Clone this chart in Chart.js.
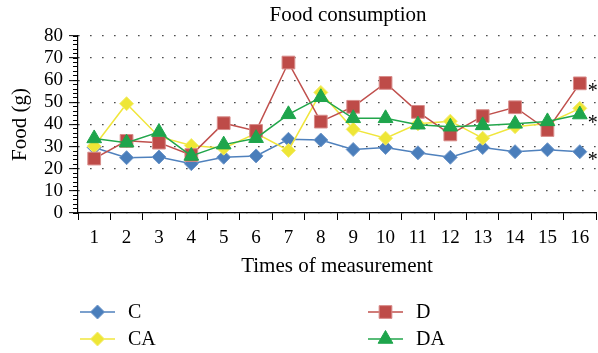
<!DOCTYPE html>
<html>
<head>
<meta charset="utf-8">
<title>Food consumption</title>
<script src="https://cdn.jsdelivr.net/npm/chart.js@4/dist/chart.umd.min.js"></script>
<style>
  html, body { margin: 0; padding: 0; background: #fff; }
  canvas { display: block; }
</style>
</head>
<body>
<canvas id="foodChart" width="598" height="353"></canvas>
<script>
// values
const measurements = ["1", "2", "3", "4", "5", "6", "7", "8", "9", "10", "11", "12", "13", "14", "15", "16"];
const foodC = [29.6, 25.0, 25.3, 22.3, 25.2, 25.8, 33.3, 33.0, 28.7, 29.6, 27.2, 25.2, 29.6, 27.7, 28.6, 27.7];
const foodCA = [30.2, 49.4, 34.5, 30.5, 29.3, 36.0, 28.3, 54.5, 37.8, 33.8, 40.3, 41.5, 33.8, 39.0, 40.5, 47.3];
const foodD = [24.6, 32.6, 31.8, 26.2, 40.6, 37.1, 68.0, 41.3, 48.0, 58.8, 45.7, 35.5, 43.8, 47.8, 37.5, 58.6];
const foodDA = [33.7, 31.8, 36.6, 25.8, 30.9, 33.8, 44.6, 52.3, 42.8, 42.8, 39.9, 39.0, 39.6, 40.3, 41.4, 44.5];
const significant = ["D", "DA", "C"];
const chartTitle = "Food consumption";

const serif = "'Liberation Serif', 'Times New Roman', serif";

// title sits a little right of the plot centre in the original
const titleText = {
  id: "titleText",
  afterDraw(chart) {
    const ctx = chart.ctx;
    const area = chart.chartArea;
    ctx.save();
    ctx.fillStyle = "#000";
    ctx.font = "21px " + serif;
    ctx.textAlign = "center";
    ctx.textBaseline = "middle";
    ctx.fillText(chartTitle, (area.left + area.right) / 2 + 11, 15);
    ctx.restore();
  }
};

// two column legend under the plot
const legendColumns = {
  id: "legendColumns",
  afterDraw(chart) {
    const ctx = chart.ctx;
    const colX = [80, 368];
    const rowY = [312, 339];
    ctx.save();
    chart.data.datasets.forEach((ds, i) => {
      const x = colX[Math.floor(i / 2)];
      const y = rowY[i % 2];
      ctx.strokeStyle = ds.borderColor;
      ctx.lineWidth = 1.5;
      ctx.beginPath();
      ctx.moveTo(x, y);
      ctx.lineTo(x + 35, y);
      ctx.stroke();
      ctx.fillStyle = ds.pointBackgroundColor;
      ctx.strokeStyle = ds.pointBorderColor;
      ctx.lineWidth = 1;
      Chart.helpers.drawPoint(ctx, {
        pointStyle: ds.pointStyle,
        radius: ds.pointRadius,
        borderWidth: 1,
        rotation: 0
      }, x + 17.5, y);
      ctx.fillStyle = "#000";
      ctx.font = "20px " + serif;
      ctx.textAlign = "left";
      ctx.textBaseline = "middle";
      ctx.fillText(ds.label, x + 48, y + 1);
    });
    ctx.restore();
  }
};

// asterisks next to the last point of the marked series
const asterisks = {
  id: "asterisks",
  afterDatasetsDraw(chart) {
    const ctx = chart.ctx;
    ctx.save();
    ctx.fillStyle = "#000";
    ctx.font = "20px " + serif;
    ctx.textAlign = "center";
    ctx.textBaseline = "alphabetic";
    chart.data.datasets.forEach((ds, i) => {
      if (!significant.includes(ds.label)) return;
      const pts = chart.getDatasetMeta(i).data;
      const last = pts[pts.length - 1];
      ctx.fillText("*", last.x + 13, last.y + 14);
    });
    ctx.restore();
  }
};

// keep the plot box exactly where the original has it
const noPadding = (scale) => {
  scale.paddingLeft = 0;
  scale.paddingRight = 0;
  scale.paddingTop = 0;
  scale.paddingBottom = 0;
};

const ctx = document.getElementById("foodChart").getContext("2d");

const data = {
  labels: measurements,
  datasets: [
    {
      label: "C",
      data: foodC,
      borderColor: "#4f81bd",
      borderWidth: 1.5,
      pointStyle: "rectRot",
      pointRadius: 7,
      pointBackgroundColor: "#4a7ebb",
      pointBorderColor: "#6f97c9",
      pointBorderWidth: 1,
      order: 4
    },
    {
      label: "CA",
      data: foodCA,
      borderColor: "#f0e63c",
      borderWidth: 1.5,
      pointStyle: "rectRot",
      pointRadius: 7,
      pointBackgroundColor: "#eee636",
      pointBorderColor: "#f3ec70",
      pointBorderWidth: 1,
      order: 3
    },
    {
      label: "D",
      data: foodD,
      borderColor: "#c0504d",
      borderWidth: 1.5,
      pointStyle: "rect",
      pointRadius: 9,
      pointBackgroundColor: "#be4b48",
      pointBorderColor: "#d88c8a",
      pointBorderWidth: 1,
      order: 2
    },
    {
      label: "DA",
      data: foodDA,
      borderColor: "#22a64b",
      borderWidth: 1.5,
      pointStyle: "triangle",
      pointRadius: 8.5,
      pointBackgroundColor: "#1ea54c",
      pointBorderColor: "#1ea54c",
      pointBorderWidth: 1,
      order: 1
    }
  ]
};

const config = {
  type: "line",
  data: data,
  options: {
    responsive: false,
    animation: false,
    devicePixelRatio: 1,
    layout: {
      autoPadding: false,
      padding: { top: 36, right: 2, bottom: 68, left: 0 }
    },
    plugins: {
      legend: { display: false },
      tooltip: { enabled: false },
      title: { display: false }
    },
    scales: {
      y: {
        type: "linear",
        position: "left",
        weight: 1,
        min: 0,
        max: 80,
        afterFit: (scale) => { scale.width = 78; noPadding(scale); },
        ticks: {
          stepSize: 10,
          autoSkip: false,
          padding: 6,
          color: "#000",
          font: { family: serif, size: 19 }
        },
        grid: {
          color: "#222",
          lineWidth: 1.3,
          tickLength: 9,
          tickColor: "#000",
          tickWidth: 1,
          tickBorderDash: []
        },
        border: {
          display: true,
          color: "#000",
          width: 1.2,
          dash: [1.3, 10.7]
        },
        title: {
          display: true,
          text: "Food (g)",
          color: "#000",
          font: { family: serif, size: 21 },
          padding: { top: 8, bottom: 0 }
        }
      },
      yMinor: {
        type: "linear",
        position: "left",
        weight: 0,
        min: 0,
        max: 80,
        afterFit: (scale) => { scale.width = 0; noPadding(scale); },
        ticks: { stepSize: 2, display: false },
        grid: {
          drawOnChartArea: false,
          tickLength: 5,
          color: "#000",
          tickBorderDash: []
        },
        border: { display: false }
      },
      x: {
        type: "category",
        position: "bottom",
        offset: true,
        afterFit: (scale) => { scale.height = 72; noPadding(scale); },
        ticks: {
          padding: 7,
          color: "#000",
          maxRotation: 0,
          autoSkip: false,
          font: { family: serif, size: 19 }
        },
        grid: {
          drawOnChartArea: false,
          offset: true,
          tickLength: 7,
          color: "#000",
          tickBorderDash: []
        },
        border: { display: true, color: "#000", width: 1.2 },
        title: {
          display: true,
          text: "Times of measurement",
          color: "#000",
          font: { family: serif, size: 21 },
          padding: { top: 0, bottom: 6 }
        }
      }
    }
  },
  plugins: [titleText, legendColumns, asterisks]
};

const foodChart = new Chart(ctx, config);
</script>
</body>
</html>
